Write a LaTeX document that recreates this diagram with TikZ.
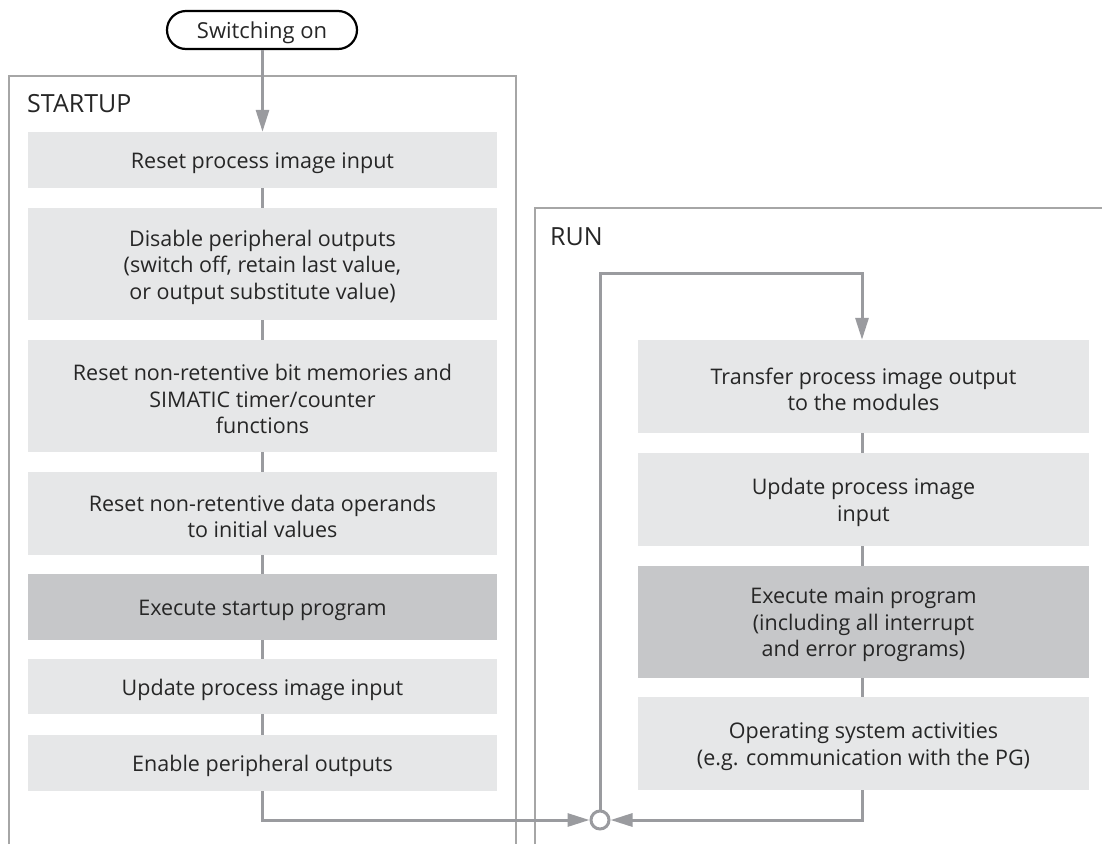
\documentclass[tikz,border=0pt]{standalone}
\usepackage{fontspec}
\setmainfont{Open Sans}
\usetikzlibrary{arrows.meta,shapes.misc}
\definecolor{conn}{HTML}{9A9B9F}
\definecolor{frame}{HTML}{A6A6A6}
\definecolor{boxlight}{HTML}{E6E7E8}
\definecolor{boxdark}{HTML}{C6C7C9}
\definecolor{txt}{HTML}{262626}
\tikzset{
  boxtext/.style={align=center, text=txt, inner sep=0pt, yshift=-3pt,
    font=\fontsize{21.5}{26.5}\selectfont},
  stepbox/.style={fill=boxlight, draw=none, inner sep=0pt},
  darkbox/.style={stepbox, fill=boxdark},
  tb/.style={label={[boxtext]center:{#1}}},
  conline/.style={draw=conn, line width=3pt},
  arr/.style={conline, -{Triangle[length=22pt,width=13pt]}},
  frameline/.style={draw=frame, line width=2pt},
  title/.style={anchor=west, text=txt, font=\fontsize{25}{28}\selectfont, inner sep=0pt},
}
\begin{document}
\begin{tikzpicture}[x=1pt,y=-1pt]
\useasboundingbox (0,0) rectangle (1102,844);
% frames
\draw[frameline] (9,844) -- (9,76) -- (516,76) -- (516,844);
\draw[frameline] (535,844) -- (535,208) -- (1102,208);
\node[title] (tstart) at (27,104) {STARTUP};
\node[title] (trun) at (550,237) {RUN};
% start node
\node[draw=black, line width=2.2pt, rounded rectangle, minimum width=190pt, minimum height=38pt,
  inner sep=0pt, text depth=0pt, text=txt, font=\fontsize{22}{24}\selectfont] (on) at (262,30) {Switching on};
% startup boxes
\node[stepbox, minimum width=469pt, minimum height=56pt, tb={Reset process image input}] (s1) at (262.5,160) {};
\node[stepbox, minimum width=469pt, minimum height=112pt, tb={Disable peripheral outputs\\(switch off, retain last value,\\or output substitute value)}] (s2) at (262.5,264) {};
\node[stepbox, minimum width=469pt, minimum height=112pt, tb={Reset non-retentive bit memories and\\SIMATIC timer/counter\\functions}] (s3) at (262.5,396) {};
\node[stepbox, minimum width=469pt, minimum height=83pt, tb={Reset non-retentive data operands\\to initial values}] (s4) at (262.5,513.5) {};
\node[darkbox, minimum width=469pt, minimum height=66pt, tb={Execute startup program}] (s5) at (262.5,607) {};
\node[stepbox, minimum width=469pt, minimum height=55pt, tb={Update process image input}] (s6) at (262.5,686.5) {};
\node[stepbox, minimum width=469pt, minimum height=56pt, tb={Enable peripheral outputs}] (s7) at (262.5,763) {};
% run boxes
\node[stepbox, minimum width=451pt, minimum height=93pt, tb={Transfer process image output\\to the modules}] (r1) at (863.5,386.5) {};
\node[stepbox, minimum width=451pt, minimum height=93pt, tb={Update process image\\input}] (r2) at (863.5,499.5) {};
\node[darkbox, minimum width=451pt, minimum height=112pt, tb={Execute main program\\(including all interrupt\\and error programs)}] (r3) at (863.5,622) {};
\node[stepbox, minimum width=451pt, minimum height=93pt, tb={Operating system activities\\(e.g. communication with the PG)}] (r4) at (863.5,743.5) {};
% junction
\node[circle, draw=conn, line width=3pt, fill=white, minimum size=18pt, inner sep=0pt] (j) at (600,820) {};
\coordinate (loopL) at (600,273);
\coordinate (loopR) at (862,273);
\coordinate (sb) at (262,820);
\coordinate (rb) at (862,820);
% connectors
\draw[arr] (on.south -| s1.north) -- (s1.north);
\draw[conline] (s1) -- (s2);
\draw[conline] (s2) -- (s3);
\draw[conline] (s3) -- (s4);
\draw[conline] (s4) -- (s5);
\draw[conline] (s5) -- (s6);
\draw[conline] (s6) -- (s7);
\draw[arr] (s7.south -| sb) -- (sb) -- (j.west);
\draw[arr] (r4.south -| rb) -- (rb) -- (j.east);
\draw[arr] (j.north) -- (loopL) -- (loopR) -- (r1.north -| loopR);
\draw[conline] (r1.south -| rb) -- (r2.north -| rb);
\draw[conline] (r2.south -| rb) -- (r3.north -| rb);
\draw[conline] (r3.south -| rb) -- (r4.north -| rb);
\end{tikzpicture}
\end{document}
